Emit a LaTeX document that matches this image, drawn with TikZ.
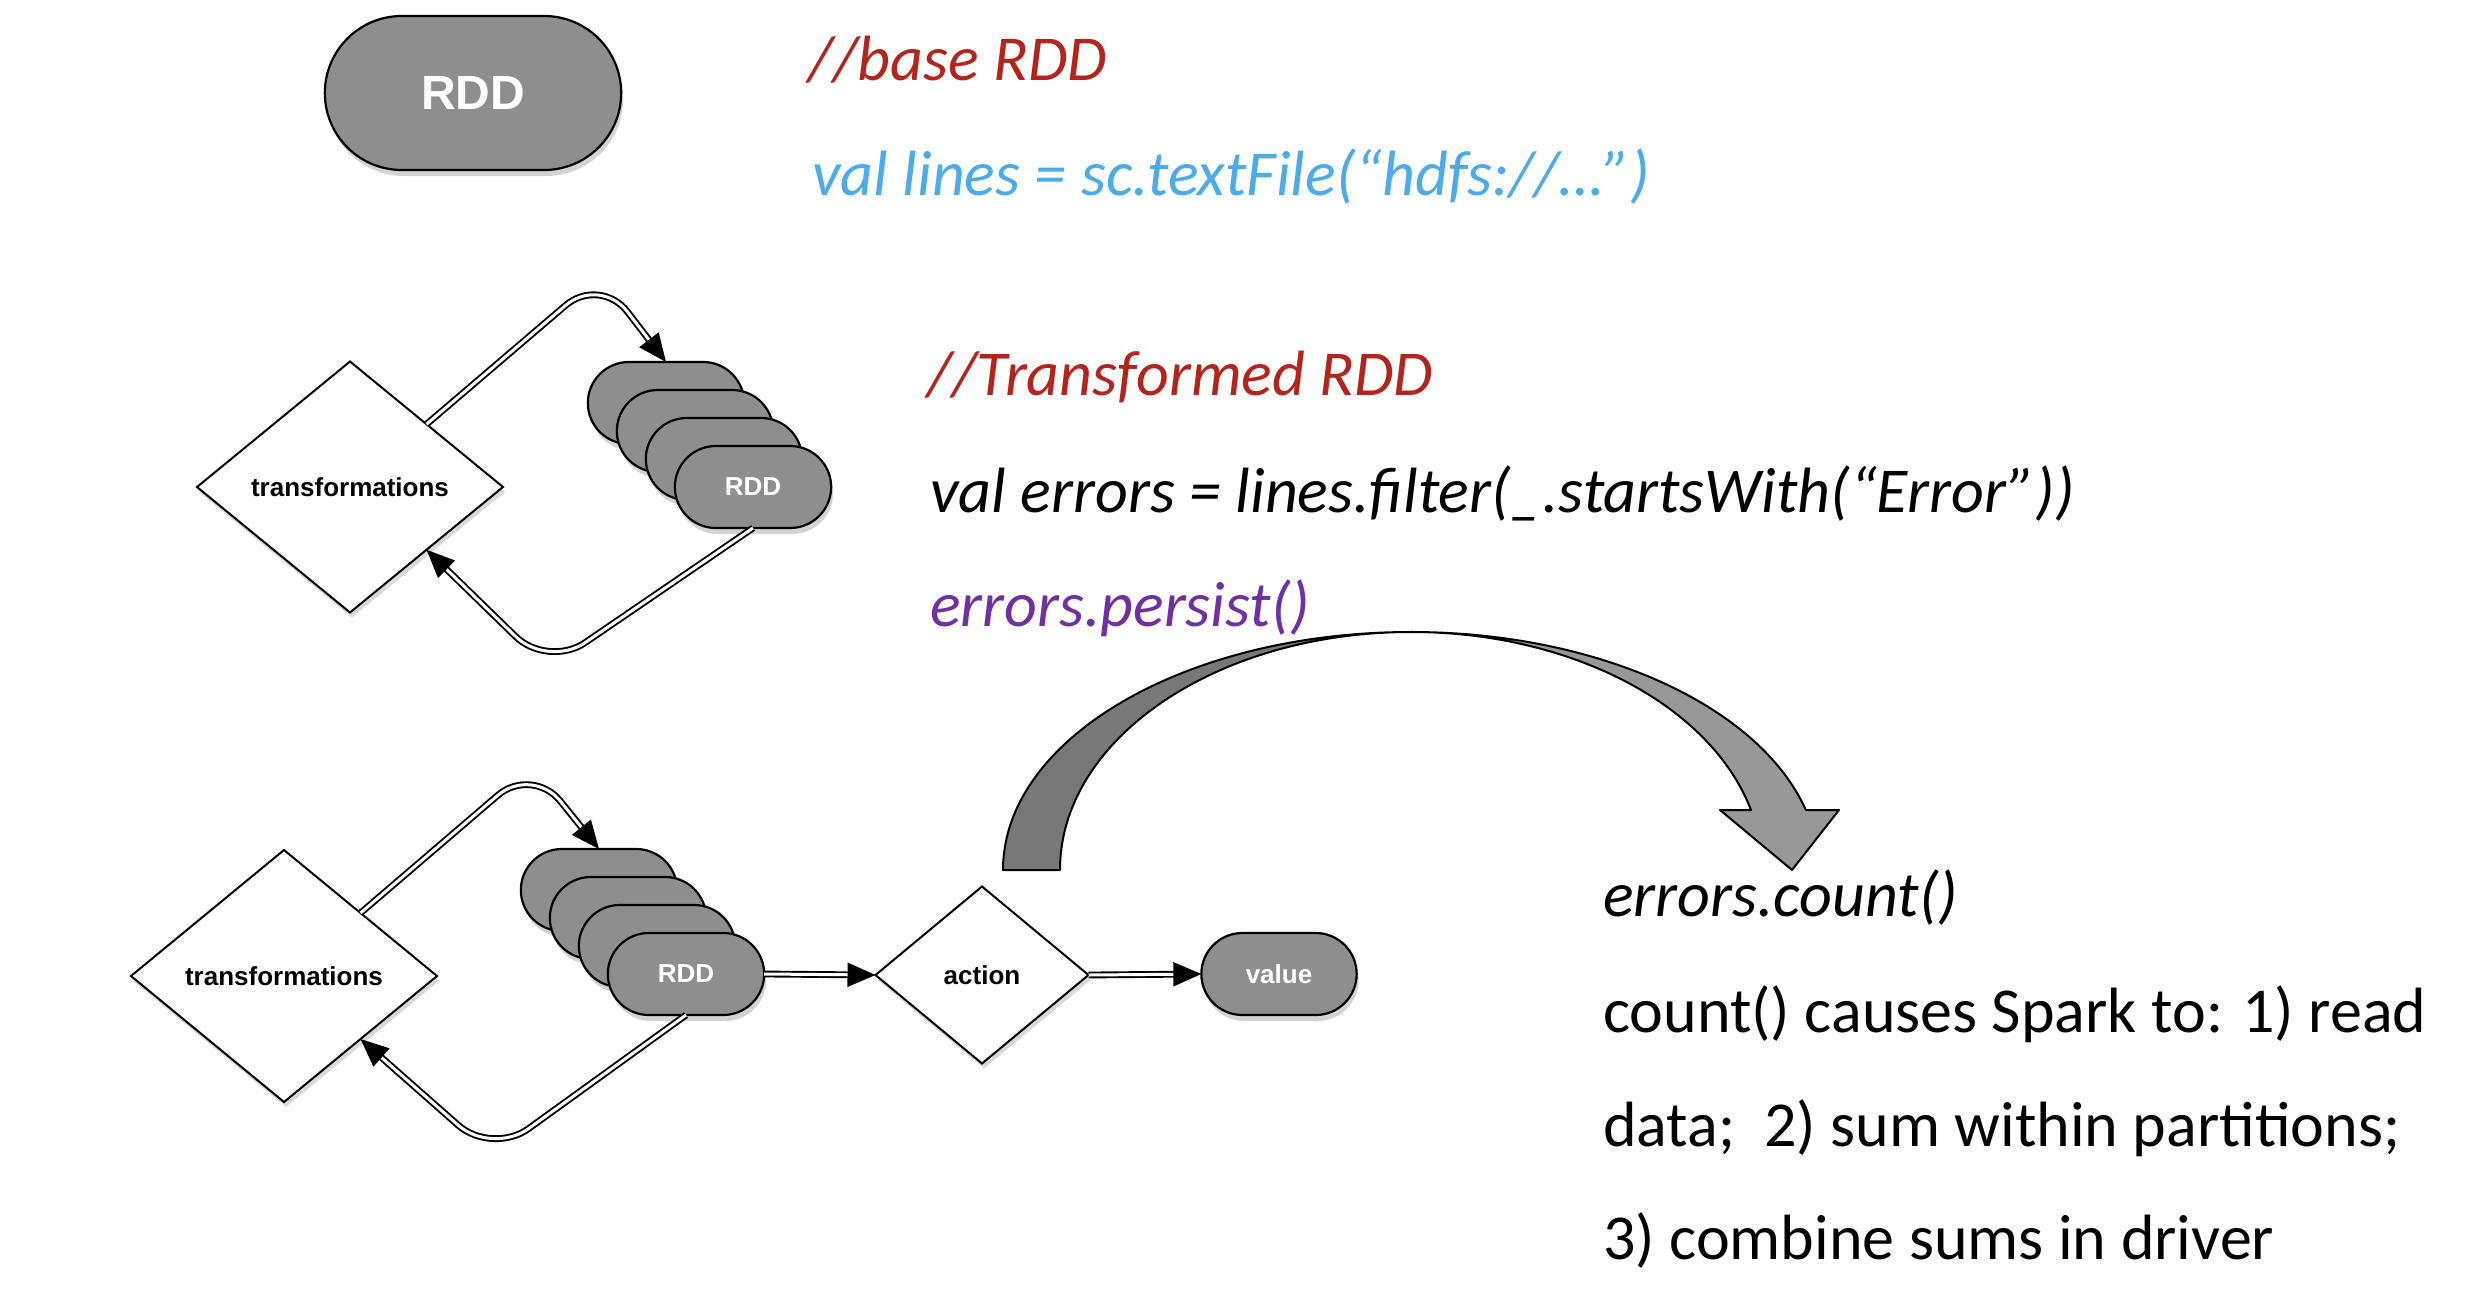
\documentclass[tikz,border=0pt]{standalone}
\usepackage{fontspec}
\setmainfont{Carlito}
\newfontfamily\shapefont{Liberation Sans}
\usetikzlibrary{arrows.meta,positioning,shapes.geometric,shapes.misc,shadows}

\definecolor{pillgray}{RGB}{142,142,142}
\definecolor{commentred}{RGB}{178,36,28}
\definecolor{codeblue}{RGB}{76,172,234}
\definecolor{codepurple}{RGB}{112,48,160}
\definecolor{banddark}{RGB}{120,120,120}
\definecolor{bandlight}{RGB}{152,152,152}

\tikzset{
  pill/.style={rounded rectangle,draw,line width=2.2pt,fill=pillgray,text=white,
    font=\shapefont\bfseries\fontsize{26}{30}\selectfont,
    minimum width=163pt,minimum height=82pt,outer sep=0pt,
    drop shadow={shadow xshift=2pt,shadow yshift=-6pt,opacity=.35}},
  decision/.style={diamond,draw,line width=2pt,fill=white,inner sep=0pt,outer sep=0pt,
    font=\shapefont\bfseries\fontsize{26}{30}\selectfont,
    drop shadow={shadow xshift=2pt,shadow yshift=-5pt,opacity=.3}},
  flow/.style={draw,double=white,double distance=3pt,line width=1.9pt,
    rounded corners=45pt,-{Triangle[length=28pt,width=24pt]}},
  code/.style={anchor=base west,inner sep=0pt,font=\itshape\fontsize{64}{77}\selectfont},
  note/.style={anchor=base west,inner sep=0pt,font=\fontsize{64}{77}\selectfont},
  band/.style={draw,line width=2pt,line join=round}
}

\begin{document}
\begin{tikzpicture}[x=1pt,y=1pt]
    \useasboundingbox (0,0) rectangle (2484,-1306);

    % base RDD
    \node[pill,minimum width=303pt,minimum height=154pt,
          font=\shapefont\bfseries\fontsize{48}{56}\selectfont] (rddTop) at (473,-93) {RDD};

    % transformations loop
    \node[decision,minimum width=306pt,minimum height=251pt] (trA) at (350,-487) {transformations};
    \node[pill] (rddA1) at (666,-403) {};
    \node[pill] (rddA2) at ([shift={(29,-28)}]rddA1) {};
    \node[pill] (rddA3) at ([shift={(29,-28)}]rddA2) {};
    \node[pill] (rddA4) at ([shift={(29,-28)}]rddA3) {RDD};
    \draw[flow] (trA.north east) -- (600,-276) -- (rddA1.north);
    \draw[flow] (rddA4.south) -- (548,-668) -- (trA.south east);

    % transformations loop, then action
    \node[decision,minimum width=306pt,minimum height=252pt] (trB) at (284,-976) {transformations};
    \node[pill] (rddB1) at (599,-890) {};
    \node[pill] (rddB2) at ([shift={(29,-28)}]rddB1) {};
    \node[pill] (rddB3) at ([shift={(29,-28)}]rddB2) {};
    \node[pill] (rddB4) at ([shift={(29,-28)}]rddB3) {RDD};
    \node[decision,minimum width=213pt,minimum height=177pt] (action) at (982,-975) {action};
    \node[pill,minimum width=162pt] (value) at (1279,-974) {value};
    \draw[flow] (trB.north east) -- (532,-766) -- (rddB1.north);
    \draw[flow] (rddB4.south) -- (492,-1155) -- (trB.south east);
    \draw[flow] (rddB4.east) -- (action.west);
    \draw[flow] (action.east) -- (value.west);

    % curved block arrow
    \draw[band,fill=banddark] (1003,-870)
        arc[start angle=180,end angle=90,x radius=408pt,y radius=238pt]
        arc[start angle=90,end angle=180,x radius=351pt,y radius=238pt] -- cycle;
    \draw[band,fill=bandlight] (1411,-632)
        arc[start angle=90,end angle=14.6,x radius=408pt,y radius=238pt]
        -- (1839,-810) -- (1792,-870) -- (1720,-810) -- (1751,-810)
        arc[start angle=14.6,end angle=90,x radius=351pt,y radius=238pt] -- cycle;

    % code
    \node[code,text=commentred] (baseCmt)     at (808,-81)  {//base RDD};
    \node[code,text=codeblue]   (linesDef)    at (812,-195) {val lines = sc.textFile(“hdfs://…”)};
    \node[code,text=commentred] (transCmt)    at (927,-395) {//Transformed RDD};
    \node[code]                 (errorsDef)   at (930,-512) {val errors = lines.filter(\_.startsWith(“Error”))};
    \node[code,text=codepurple] (persistCall) at (930,-626) {errors.persist()};
    \node[code]                 (countCall)   at (1603,-916) {errors.count()};
    \node[note] (noteA) at (1603,-1032) {count() causes Spark to: 1) read};
    \node[note] (noteB) at (1603,-1146) {data;\ \ 2) sum within partitions;};
    \node[note] (noteC) at (1603,-1259) {3) combine sums in driver};
\end{tikzpicture}
\end{document}
